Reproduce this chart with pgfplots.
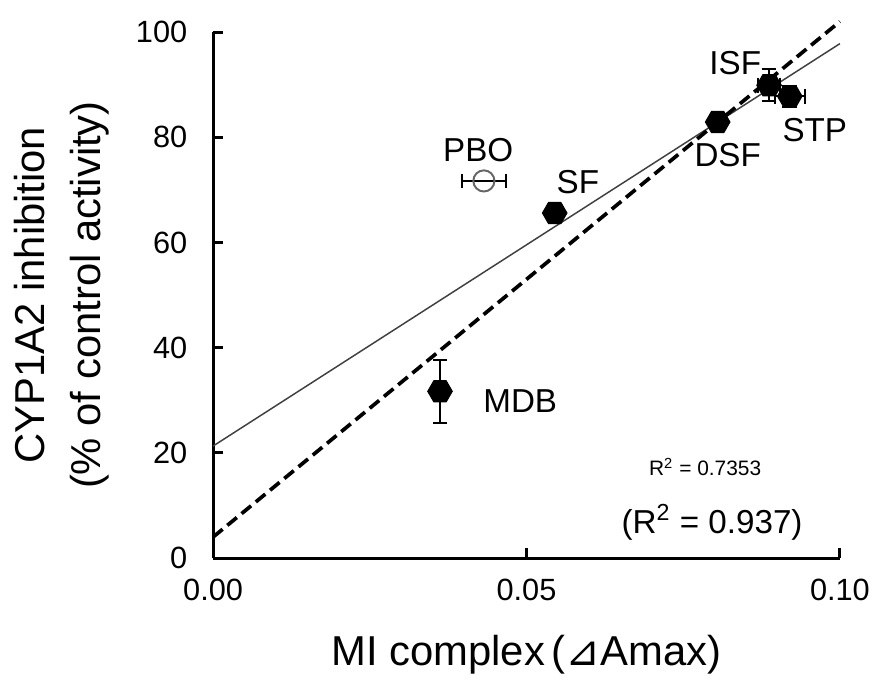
\documentclass[border=0pt]{standalone}
\usepackage{pgfplots}
\pgfplotsset{compat=1.18}
\usepackage{fontspec}
\setmainfont{Liberation Sans}
\newfontfamily\dejavu{DejaVu Sans}

% flat-topped hexagon mark
\pgfdeclareplotmark{hex}{%
  \pgfpathmoveto{\pgfpointpolar{0}{\pgfplotmarksize}}%
  \pgfpathlineto{\pgfpointpolar{60}{\pgfplotmarksize}}%
  \pgfpathlineto{\pgfpointpolar{120}{\pgfplotmarksize}}%
  \pgfpathlineto{\pgfpointpolar{180}{\pgfplotmarksize}}%
  \pgfpathlineto{\pgfpointpolar{240}{\pgfplotmarksize}}%
  \pgfpathlineto{\pgfpointpolar{300}{\pgfplotmarksize}}%
  \pgfpathclose
  \pgfusepathqfillstroke}

\begin{document}
\begin{tikzpicture}
\begin{axis}[
  scale only axis, width=255pt, height=214pt,
  xmin=0, xmax=0.1, ymin=0, ymax=100,
  axis lines=left, axis line style={line width=1.2pt,-},
  tick align=inside, major tick length=4pt,
  tick style={line width=1.2pt,black},
  xtick={0,0.05,0.1}, xticklabels={0.00,0.05,0.10},
  scaled x ticks=false,
  ytick={0,20,40,60,80,100},
  /pgf/number format/assume math mode=true,
  tick label style={font=\fontsize{12.5}{15}\selectfont},
  yticklabel style={xshift=-7pt},
  xticklabel style={yshift=-5pt},
  xlabel={MI complex\,({\dejavu ⊿}Amax)},
  xlabel style={font=\fontsize{17}{20}\selectfont, yshift=-7pt},
  ylabel={CYP1A2 inhibition\\(\% of control activity)},
  ylabel style={font=\fontsize{17}{23}\selectfont, align=center, yshift=4pt},
  clip=false,
  error bars/error bar style={line width=0.8pt,black},
  error bars/error mark options={rotate=90,mark size=3pt,line width=0.8pt,black},
]
\addplot[line width=0.6pt, black!75] coordinates {(0,21.3) (0.1,97.8)};
\addplot[line width=1.5pt, black, dash pattern=on 5pt off 2.5pt] coordinates {(0,4) (0.1,102)};

\addplot[only marks, mark=o, mark size=4.3pt, mark options={fill=white, draw=black!60, line width=0.8pt},
  error bars/.cd, x dir=both, x explicit]
  coordinates {(0.0432,71.7) +- (0.0035,0)};

\addplot[only marks, mark=hex, mark size=5pt, mark options={fill=black, draw=black},
  error bars/.cd, x dir=both, x explicit, y dir=both, y explicit]
  coordinates {
    (0.0545,65.6) +- (0.0004,0.6)
    (0.0805,82.9) +- (0.0008,1.0)
    (0.0887,89.9) +- (0.0018,3.0)
    (0.0920,87.8) +- (0.0024,2.0)
    (0.0362,31.7) +- (0.0009,6.0)
  };

\begin{scope}[every node/.style={font=\fontsize{13.5}{16}\selectfont}]
\node at (axis cs:0.0423,77.6) {PBO};
\node at (axis cs:0.0582,71.5) {SF};
\node at (axis cs:0.0833,94.1) {ISF};
\node at (axis cs:0.0960,81.4) {STP};
\node at (axis cs:0.0821,76.6) {DSF};
\node at (axis cs:0.0490,29.8) {MDB};
\end{scope}
\node[font=\fontsize{8.5}{10}\selectfont] at (axis cs:0.0785,17.3) {R\textsuperscript{2} = 0.7353};
\node[font=\fontsize{13.5}{16}\selectfont] at (axis cs:0.0796,6.8) {(R\textsuperscript{2} = 0.937)};

\coordinate (bl) at (axis cs:-0.034,-24.0);
\coordinate (tr) at (axis cs:0.1056,106.1);
\end{axis}
\pgfresetboundingbox
\path[use as bounding box] (bl) rectangle (tr);
\end{tikzpicture}
\end{document}
